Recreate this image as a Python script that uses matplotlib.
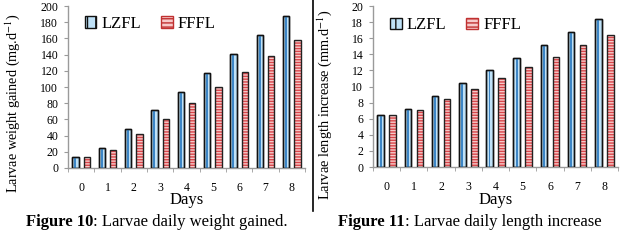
import matplotlib
matplotlib.use("Agg")
import matplotlib.pyplot as plt
import numpy as np
from matplotlib.lines import Line2D
from matplotlib.patches import Patch

plt.rcParams['font.family'] = ['Liberation Serif', 'DejaVu Serif']
plt.rcParams['mathtext.fontset'] = 'stix'
plt.rcParams['hatch.linewidth'] = 1.0

days = ['0', '1', '2', '3', '4', '5', '6', '7', '8']
weight_lzfl = [13, 25, 48, 71, 94, 117, 141, 164, 188]
weight_fffl = [13, 22, 42, 61, 80, 100, 119, 138, 158]
length_lzfl = [6.4, 7.2, 8.8, 10.4, 12.0, 13.6, 15.2, 16.8, 18.4]
length_fffl = [6.4, 7.1, 8.4, 9.7, 11.1, 12.4, 13.7, 15.1, 16.4]
series_names = ['LZFL', 'FFFL']

W, H = 632, 243
fig = plt.figure(figsize=(W / 100, H / 100), dpi=100)

BLUE_FILL = '#bfe1f7'
BLUE_DARK = '#3d86c6'
PINK_FILL = '#f7c9c9'
RED_HATCH = '#d9464a'
AXIS_GREY = '#9a9a9a'


def px_axes(x0, x1, ytop, ybot):
    return fig.add_axes([x0 / W, 1 - ybot / H, (x1 - x0) / W, (ybot - ytop) / H])


def draw(ax, a, b, ymax, ystep, ylabel, ylab_xy, ylab_size, leg_xy):
    x = np.arange(len(days))
    bw = 0.24
    off = 0.22
    # LZFL
    ax.bar(x - off, a, bw, color=BLUE_FILL, edgecolor='#111111', linewidth=1.0, zorder=2)
    ax.bar(x - off, a, bw * 0.28, color=BLUE_DARK, linewidth=0, zorder=3)
    ax.bar(x - off, a, bw, fill=False, edgecolor='#111111', linewidth=1.0, zorder=4)
    # FFFL
    ax.bar(x + off, b, bw, color=PINK_FILL, edgecolor=RED_HATCH, linewidth=0,
           hatch='------', zorder=2)
    ax.bar(x + off, b, bw, fill=False, edgecolor='#222222', linewidth=1.0, zorder=4)

    ax.set_xlim(-0.5, len(days) - 0.5)
    ax.set_ylim(0, ymax)
    ax.set_yticks(np.arange(0, ymax + ystep / 2, ystep))
    ax.set_xticks(x)
    ax.set_xticklabels(days)
    ax.set_xticks(np.arange(-0.5, len(days), 1.0), minor=True)
    ax.tick_params(axis='x', which='major', length=0, pad=10, labelsize=8.5)
    ax.tick_params(axis='x', which='minor', length=3, color=AXIS_GREY, direction='out')
    ax.tick_params(axis='y', length=3, color=AXIS_GREY, direction='out', labelsize=8.5, pad=4)
    for s in ['top', 'right']:
        ax.spines[s].set_visible(False)
    for s in ['left', 'bottom']:
        ax.spines[s].set_color(AXIS_GREY)
        ax.spines[s].set_linewidth(1.0)
    ax.set_xlabel('Days', fontsize=12, labelpad=-1)
    ax.set_ylabel(ylabel, fontsize=ylab_size)
    ax.yaxis.set_label_coords(*ylab_xy)

    h1 = Patch(facecolor=BLUE_FILL, edgecolor='#111111', linewidth=1.0, hatch='||')
    h2 = Patch(facecolor=PINK_FILL, edgecolor='#c03030', linewidth=1.0, hatch='----')
    ax.legend([h1, h2], series_names, ncol=2, frameon=False, fontsize=12,
              loc='center left', bbox_to_anchor=leg_xy, handlelength=0.7,
              handleheight=0.7, handletextpad=0.3, columnspacing=1.2,
              borderaxespad=0, borderpad=0)


ax1 = px_axes(68, 305, 6, 168)
draw(ax1, weight_lzfl, weight_fffl, 200, 20, 'Larvae weight gained (mg.d$^{-1}$)',
     (-0.194, 0.398), 10.3, (0.07, 0.89))
ax2 = px_axes(373, 618, 6, 167)
draw(ax2, length_lzfl, length_fffl, 20, 2, 'Larvae length increase (mm.d$^{-1}$)',
     (-0.159, 0.385), 10.4, (0.07, 0.88))

# separator line
fig.add_artist(Line2D([312.5 / W, 312.5 / W], [1, 1 - 211 / H], color='black', linewidth=1.2))


def caption(xc, y, bold, rest):
    t1 = fig.text(0, 0, bold, fontsize=12, fontweight='bold', va='baseline')
    t2 = fig.text(0, 0, rest, fontsize=12, va='baseline')
    fig.canvas.draw()
    r = fig.canvas.get_renderer()
    w1 = t1.get_window_extent(r).width
    w2 = t2.get_window_extent(r).width
    x0 = xc - (w1 + w2) / 2
    t1.set_position((x0 / W, 1 - y / H))
    t2.set_position(((x0 + w1) / W, 1 - y / H))


caption(157, 226, 'Figure 10', ': Larvae daily weight gained.')
caption(470, 226, 'Figure 11', ': Larvae daily length increase')

fig.savefig('out.png', dpi=100)
